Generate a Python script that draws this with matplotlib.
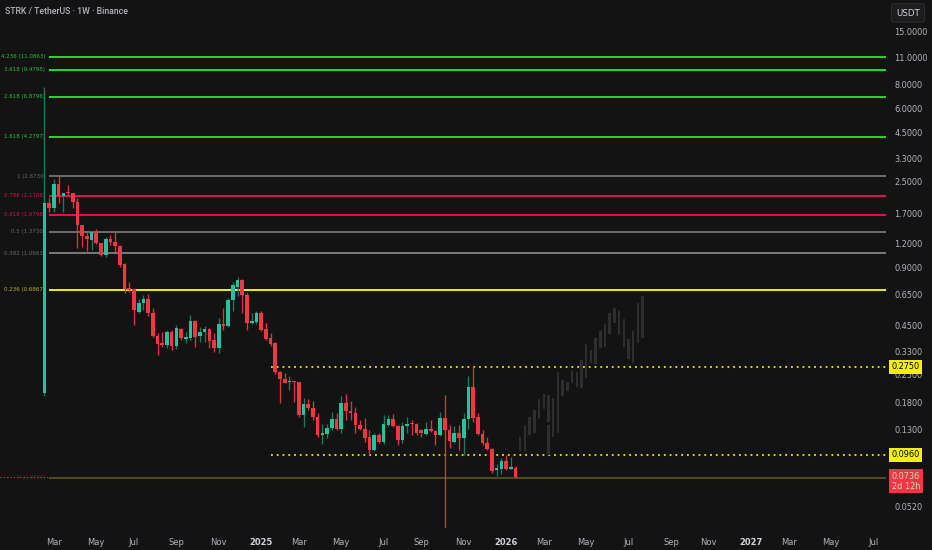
import matplotlib
matplotlib.use('Agg')
import matplotlib.pyplot as plt
import matplotlib.dates as mdates
import matplotlib.transforms as mtransforms
from matplotlib.ticker import FixedLocator, NullLocator, FuncFormatter
import pandas as pd
import numpy as np

# ---------------- data ----------------
week_start = '2024-02-19'

opens = [0.201, 1.94, 1.83, 2.43, 2.11, 2.21, 2.18, 1.96, 1.49, 1.31,
         1.25, 1.37, 1.20, 1.04, 1.26, 1.22, 1.16, 0.936, 0.703, 0.695,
         0.528, 0.588, 0.617, 0.522, 0.396, 0.365, 0.356, 0.416, 0.352, 0.431,
         0.383, 0.387, 0.474, 0.396, 0.416, 0.431, 0.378, 0.344, 0.457, 0.447,
         0.609, 0.711, 0.773, 0.647, 0.463, 0.469, 0.522, 0.431, 0.387, 0.365,
         0.258, 0.237, 0.229, 0.232, 0.229, 0.1545, 0.176, 0.168, 0.151, 0.1217,
         0.1232, 0.1323, 0.147, 0.1307, 0.178, 0.162, 0.158, 0.1372, 0.1307, 0.1189,
         0.1018, 0.1217, 0.1120, 0.1372, 0.147, 0.1355, 0.1147, 0.1355, 0.1405, 0.1388,
         0.1292, 0.1232, 0.1307, 0.1277, 0.1217, 0.149, 0.1292, 0.1120, 0.1247, 0.1175,
         0.147, 0.216, 0.151, 0.1232, 0.1106, 0.1030, 0.0802, 0.0811, 0.0893, 0.0811,
         0.0821]
closes = [1.94, 1.83, 2.43, 2.11, 2.18, 2.17, 1.96, 1.49, 1.31, 1.26,
          1.37, 1.20, 1.04, 1.26, 1.22, 1.16, 0.925, 0.695, 0.686, 0.541,
          0.588, 0.617, 0.522, 0.396, 0.360, 0.356, 0.416, 0.352, 0.436, 0.387,
          0.392, 0.474, 0.392, 0.416, 0.431, 0.374, 0.344, 0.457, 0.447, 0.609,
          0.729, 0.773, 0.647, 0.463, 0.474, 0.522, 0.426, 0.383, 0.360, 0.258,
          0.237, 0.226, 0.232, 0.229, 0.1545, 0.176, 0.168, 0.151, 0.1217, 0.1247,
          0.1323, 0.147, 0.1307, 0.178, 0.162, 0.158, 0.1372, 0.1307, 0.1175, 0.1018,
          0.1217, 0.1120, 0.1388, 0.147, 0.1355, 0.1147, 0.1355, 0.1388, 0.1388, 0.1247,
          0.1247, 0.1307, 0.1277, 0.1217, 0.149, 0.1292, 0.1133, 0.1247, 0.1175, 0.147,
          0.216, 0.149, 0.1232, 0.1106, 0.1030, 0.0793, 0.0821, 0.0893, 0.0811, 0.0831,
          0.0736]
highs = [7.73, 2.06, 2.58, 2.673, 2.19, 2.40, 2.18, 2.06, 1.49, 1.39,
         1.39, 1.42, 1.20, 1.29, 1.32, 1.39, 1.17, 0.947, 0.755, 0.703,
         0.617, 0.647, 0.654, 0.554, 0.411, 0.416, 0.426, 0.426, 0.452, 0.436,
         0.416, 0.509, 0.480, 0.441, 0.447, 0.436, 0.411, 0.491, 0.554, 0.624,
         0.755, 0.802, 0.782, 0.662, 0.522, 0.534, 0.534, 0.463, 0.411, 0.369,
         0.261, 0.255, 0.246, 0.232, 0.229, 0.189, 0.187, 0.183, 0.158, 0.1388,
         0.1388, 0.160, 0.158, 0.194, 0.199, 0.183, 0.170, 0.1456, 0.149, 0.1292,
         0.1247, 0.1247, 0.1545, 0.1545, 0.156, 0.1372, 0.142, 0.151, 0.1456, 0.1405,
         0.1307, 0.142, 0.1456, 0.1292, 0.160, 0.196, 0.1372, 0.1355, 0.1372, 0.158,
         0.246, 0.278, 0.158, 0.1292, 0.1189, 0.1042, 0.0861, 0.0925, 0.0959, 0.0942,
         0.0841]
lows = [0.195, 1.74, 1.74, 1.94, 1.74, 2.13, 1.83, 1.13, 1.15, 1.09,
        1.11, 1.19, 1.03, 1.02, 1.17, 1.08, 0.903, 0.662, 0.670, 0.452,
        0.522, 0.541, 0.503, 0.392, 0.316, 0.348, 0.344, 0.336, 0.340, 0.378,
        0.365, 0.378, 0.348, 0.369, 0.369, 0.344, 0.328, 0.324, 0.426, 0.441,
        0.534, 0.639, 0.522, 0.426, 0.457, 0.457, 0.421, 0.378, 0.352, 0.252,
        0.178, 0.226, 0.208, 0.180, 0.151, 0.134, 0.164, 0.1456, 0.1189, 0.1093,
        0.1175, 0.1292, 0.1292, 0.1247, 0.1456, 0.1456, 0.1247, 0.1292, 0.1120, 0.0959,
        0.1006, 0.1106, 0.1093, 0.1355, 0.1339, 0.1080, 0.1106, 0.1247, 0.1217, 0.1217,
        0.1189, 0.1217, 0.126, 0.1080, 0.1203, 0.035, 0.1042, 0.1106, 0.1018, 0.0959,
        0.1307, 0.142, 0.1217, 0.1080, 0.1018, 0.0774, 0.0746, 0.0764, 0.0802, 0.0811,
        0.0730]

# projected (ghost) bars following the last candle
ghost_high = [0.1189, 0.1372, 0.151, 0.164, 0.187, 0.199, 0.196, 0.189, 0.258, 0.235,
              0.229, 0.261, 0.258, 0.298, 0.360, 0.336, 0.387, 0.421, 0.457, 0.522,
              0.554, 0.534, 0.486, 0.383, 0.421, 0.588, 0.639]
ghost_low = [0.1006, 0.1006, 0.1217, 0.1247, 0.147, 0.166, 0.142, 0.1189, 0.1247, 0.194,
             0.206, 0.226, 0.216, 0.213, 0.240, 0.287, 0.285, 0.344, 0.348, 0.408,
             0.463, 0.401, 0.348, 0.301, 0.287, 0.365, 0.389]
# the 7th projected bar is drawn in two pieces
ghost_split_high = [0.1372]
ghost_split_low = [0.0959]

fib_ratios = ['4.236', '3.618', '2.618', '1.618', '1', '0.786', '0.618', '0.5', '0.382', '0.236', '0']
fib_prices = [11.0863, 9.4795, 6.8796, 4.2797, 2.6730, 2.1166, 1.6798, 1.3730, 1.0663, 0.6867, 0.0730]

support_levels = [0.2750, 0.0960]
last_price = 0.0736
countdown = '2d 12h'

y_ticks = [15, 11, 8, 6, 4.5, 3.3, 2.5, 1.7, 1.2, 0.9, 0.65, 0.45, 0.33, 0.25, 0.18, 0.13, 0.052]
x_tick_labels = ['Mar', 'May', 'Jul', 'Sep', 'Nov', '2025', 'Mar', 'May', 'Jul', 'Sep', 'Nov',
                 '2026', 'Mar', 'May', 'Jul', 'Sep', 'Nov', '2027', 'Mar', 'May', 'Jul']

title = 'STRK / TetherUS · 1W · Binance'
currency = 'USDT'

# ---------------- style ----------------
BG = '#131313'
UP = '#22c49f'
UP_WICK = '#1d7a5d'
DOWN = '#f23645'
DOWN_WICK = '#e4303f'
GHOST = '#2e2e2e'
TXT = '#b2b5be'

fib_line_colors = ['#1fdc2e'] * 4 + ['#6e6e68', '#e0144e', '#e0144e', '#6e6e6e', '#7a7a7a', '#f2f200', '#4e4e22']
fib_text_colors = ['#29c23a'] * 4 + ['#6a6a6a', '#c81a48', '#c81a48', '#6a6a6a', '#6a6a6a', '#b8b81c', '#3a3a26']

fig = plt.figure(figsize=(9.32, 5.5), dpi=100, facecolor=BG)
ax = fig.add_axes([0, 0.04, 886 / 932, 0.96])
ax.set_facecolor(BG)
for s in ax.spines.values():
    s.set_visible(False)

dates = pd.date_range(week_start, periods=len(opens), freq='7D')
x = mdates.date2num(dates)
gdates = pd.date_range(dates[-1] + pd.Timedelta(days=7), periods=len(ghost_high), freq='7D')
gx = mdates.date2num(gdates)

x0 = x[0]
ax.set_yscale('log')
ax.set_ylim(0.0402, 21.8)
ax.set_xlim(x0 - 66.1, x0 + 1250.6)

o = np.array(opens); c = np.array(closes); h = np.array(highs); l = np.array(lows)
up = c >= o

# fib labels (under candles)
for r, p, tc in zip(fib_ratios, fib_prices, fib_text_colors):
    ax.text(x0 + 1.5, p, f'{r} ({p:.4f})', ha='right', va='center', fontsize=4.0,
            color=tc, zorder=1)

# current price dotted line (full width)
ax.axhline(last_price, color='#f23645', lw=0.8, ls=(0, (1, 2)), zorder=1.5)

# fib lines
for p, lc in zip(fib_prices, fib_line_colors):
    ax.hlines(p, x0 + 6.7, x0 + 1260, color=lc, lw=1.4, zorder=2)

# support dotted lines
for p in support_levels:
    ax.hlines(p, x[48], x0 + 1260, color='#e6ee00', lw=1.3, ls=(0, (1, 2.2)), zorder=2)

# ghost bars
ax.bar(gx, np.array(ghost_high) - np.array(ghost_low), bottom=ghost_low, width=3.6,
       color=GHOST, zorder=3, linewidth=0)
ax.bar(gx[6:7], np.array(ghost_split_high) - np.array(ghost_split_low), bottom=ghost_split_low,
       width=3.6, color=GHOST, zorder=3, linewidth=0)

# candles
ax.vlines(x, l, h, colors=np.where(up, UP_WICK, DOWN_WICK), lw=0.95, zorder=4)
bot = np.minimum(o, c)
hgt = np.abs(c - o)
ax.bar(x, hgt, bottom=bot, width=5.4, color=np.where(up, UP, DOWN), linewidth=0, zorder=5)

# y axis on right
ax.yaxis.tick_right()
ax.yaxis.set_major_locator(FixedLocator(y_ticks))
ax.yaxis.set_minor_locator(NullLocator())
ax.yaxis.set_major_formatter(FuncFormatter(lambda v, pos: f'{v:.4f}'))
ax.tick_params(axis='y', length=0, pad=6, labelsize=5.9, labelcolor=TXT)

# x axis ticks at first weekly bar of each labelled month
months = pd.date_range('2024-03-01', periods=len(x_tick_labels), freq='2MS')
tick_dates = [d + pd.Timedelta(days=(7 - d.weekday()) % 7) for d in months]
ax.set_xticks(mdates.date2num(tick_dates))
ax.set_xticklabels(x_tick_labels)
ax.tick_params(axis='x', length=0, pad=7, labelsize=6, labelcolor=TXT)
for lab in ax.get_xticklabels():
    if lab.get_text().isdigit():
        lab.set_fontweight('bold')
        lab.set_color('#d1d4dc')

trans = mtransforms.blended_transform_factory(ax.transAxes, ax.transData)
# label boxes on the price scale
for p in support_levels:
    ax.text(1.0065, p, f'{p:.4f}', transform=trans, ha='left', va='center', fontsize=5.9,
            color='#000000', zorder=10, clip_on=False,
            bbox=dict(boxstyle='square,pad=0.28', fc='#f2f200', ec='none'))
ax.text(1.0065, last_price * 0.955, f'{last_price:.4f}\n{countdown}', transform=trans,
        ha='left', va='center', fontsize=5.9, color='#c6dcb4', zorder=10, clip_on=False,
        linespacing=1.15,
        bbox=dict(boxstyle='square,pad=0.3', fc='#f23645', ec='none'))

# title and currency box
fig.text(5 / 932, 1 - 12 / 550, title, ha='left', va='center', fontsize=6.3,
         color=TXT, family=['Roboto', 'DejaVu Sans'], fontweight='medium')
fig.text(908 / 932, 1 - 13 / 550, currency, ha='center', va='center', fontsize=6.2,
         color='#d1d4dc',
         bbox=dict(boxstyle='round,pad=0.55,rounding_size=0.3', fc='#1c1c1c', ec='#2e2e2e', lw=0.7))

fig.savefig('out.png', dpi=100, facecolor=BG)
